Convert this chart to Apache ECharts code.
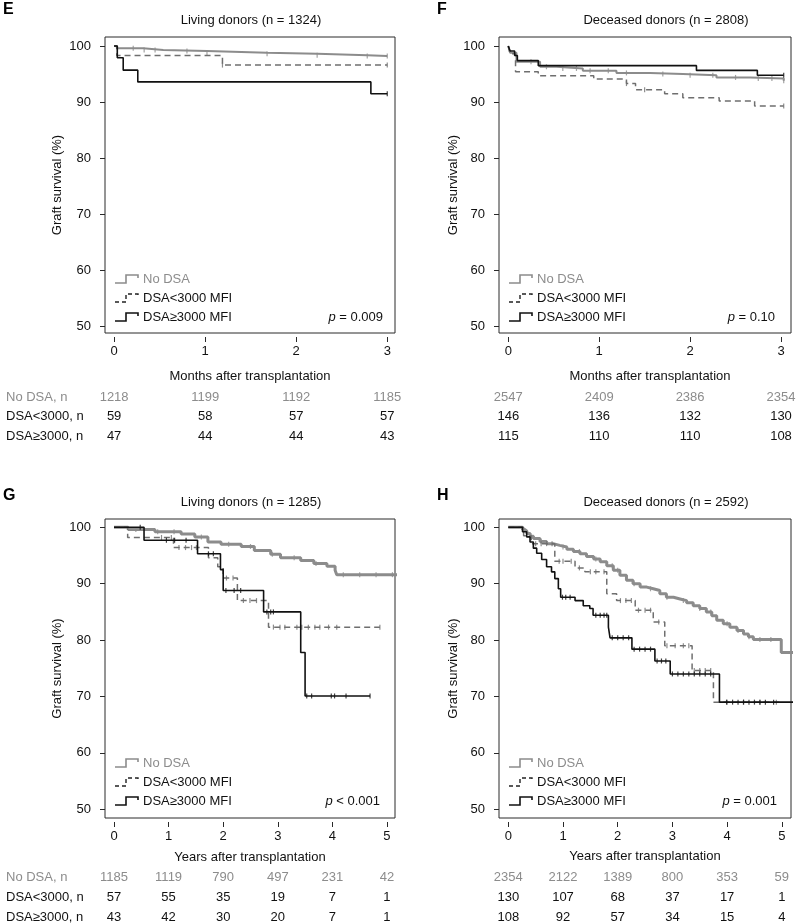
<!DOCTYPE html>
<html><head><meta charset="utf-8">
<script src="https://cdn.jsdelivr.net/npm/echarts@6/dist/echarts.min.js"></script>
<style>html,body{margin:0;padding:0;background:#fff}#c{width:798px;height:924px}</style>
</head><body><div id="c"></div>
<script>
const FONT = "'Liberation Sans', Arial, Helvetica, sans-serif";

// ---- tick labels ----
const monthTicks = [0, 1, 2, 3];
const yearTicks = [0, 1, 2, 3, 4, 5];
const survTicks = [50, 60, 70, 80, 90, 100];
const groupNames = ['No DSA', 'DSA<3000 MFI', 'DSA\u22653000 MFI'];
const riskRowLabels = ['No DSA, n', 'DSA<3000, n', 'DSA\u22653000, n'];

// ---- Panel E: living donors, months ----
const eNoDsaCurve = [[0,100],[0.03,99.6],[0.32,99.3],[0.54,99.1],[1.02,98.8],[1.68,98.6],[2.23,98.35],[2.78,98.2],[3.0,98.2]];
const eLowCurve = [[0,100],[0.03,98.3],[1.19,96.6],[3.0,96.6]];
const eHighCurve = [[0,100],[0.035,97.9],[0.1,95.7],[0.26,93.6],[2.82,91.5],[3.0,91.5]];
const eNoDsaCensor = [0.21,0.33,0.45,0.8,1.02,1.68,2.23,2.78,3.0];
const eLowCensor = [1.19,3.0];
const eHighCensor = [3.0];
const eRiskNoDsa = [1218, 1199, 1192, 1185];
const eRiskLow = [59, 58, 57, 57];
const eRiskHigh = [47, 44, 44, 43];

// ---- Panel F: deceased donors, months ----
const fNoDsaCurve = [[0,100],[0.02,98.8],[0.09,97.2],[0.35,96.3],[0.53,96.0],[0.82,95.6],[1.19,95.2],[1.56,95.0],[1.92,94.8],[2.29,94.4],[2.66,94.2],[3.03,93.8]];
const fLowCurve = [[0,100],[0.02,98.6],[0.08,95.4],[0.33,94.7],[0.94,94.1],[1.30,93.3],[1.40,92.2],[1.72,91.5],[1.92,90.8],[2.32,90.2],[2.71,89.3],[3.03,89.3]];
const fHighCurve = [[0,100],[0.02,99.1],[0.07,98.3],[0.10,97.4],[0.33,96.5],[2.07,95.65],[2.74,94.8],[3.03,94.8]];
const fNoDsaCensor = [0.25,0.42,0.6,0.75,0.9,1.1,1.3,1.7,2.0,2.25,2.5,2.75,2.9,3.03];
const fLowCensor = [1.3,1.5,3.03];
const fHighCensor = [3.03];
const fRiskNoDsa = [2547, 2409, 2386, 2354];
const fRiskLow = [146, 136, 132, 130];
const fRiskHigh = [115, 110, 110, 108];

// ---- Panel G: living donors, years ----
const gNoDsaCurve = [[0,100],[0.26,99.6],[0.75,99.2],[1.23,98.8],[1.48,98.3],[1.72,97.4],[1.96,97.0],[2.33,96.6],[2.57,95.9],[2.87,95.2],[3.05,94.6],[3.42,94.1],[3.66,93.6],[3.9,93.1],[4.05,92.4],[4.08,91.6],[5.3,91.6]];
const gLowCurve = [[0,100],[0.25,98.2],[1.09,96.4],[1.73,94.6],[1.9,93.0],[2.0,91.0],[2.26,87.0],[2.83,82.3],[4.87,82.3]];
const gHighCurve = [[0,100],[0.55,97.7],[1.53,95.3],[1.95,92.5],[2.0,88.8],[2.74,85.0],[3.42,77.8],[3.50,70.1],[4.69,70.1]];
const gNoDsaCensor = [0.4,0.8,1.1,1.6,2.1,2.5,2.9,3.3,3.7,4.2,4.5,4.8,5.1];
const gLowCensor = [0.87,1.05,1.19,1.31,1.42,1.51,2.06,2.18,2.37,2.49,2.61,2.92,3.04,3.13,3.35,3.44,3.56,3.68,3.77,3.93,4.08,4.87];
const gHighCensor = [0.48,0.96,1.11,1.32,1.73,1.82,2.05,2.2,2.32,2.8,2.87,2.92,3.53,3.62,3.98,4.04,4.25,4.69];
const gRiskNoDsa = [1185, 1119, 790, 497, 231, 42];
const gRiskLow = [57, 55, 35, 19, 7, 1];
const gRiskHigh = [43, 42, 30, 20, 7, 1];

// ---- Panel H: deceased donors, years ----
const hNoDsaCurve = [[0,100],[0.26,99.6],[0.30,99.3],[0.34,98.9],[0.40,98.4],[0.46,98.0],[0.58,97.5],[0.70,97.1],[0.82,96.8],[0.94,96.5],[1.07,96.1],[1.19,95.7],[1.31,95.3],[1.43,94.8],[1.56,94.4],[1.68,93.9],[1.80,93.2],[1.92,92.4],[2.04,91.5],[2.16,90.6],[2.28,90.0],[2.41,89.4],[2.53,89.1],[2.65,88.8],[2.77,88.2],[2.89,87.6],[3.02,87.3],[3.14,87.0],[3.26,86.6],[3.38,86.1],[3.50,85.6],[3.62,85.0],[3.72,84.3],[3.81,83.5],[3.93,82.9],[4.05,82.3],[4.18,81.7],[4.30,81.1],[4.39,80.6],[4.48,80.1],[4.99,77.8],[5.3,77.8]];
const hLowCurve = [[0,100],[0.28,98.5],[0.42,97.1],[0.85,94.0],[1.22,92.8],[1.40,92.1],[1.80,88.2],[1.98,87.0],[2.32,85.3],[2.65,83.2],[2.86,79.0],[3.36,74.6],[3.75,69.0],[4.97,69.0]];
const hHighCurve = [[0,100],[0.26,99.2],[0.336,98.3],[0.397,97.4],[0.458,96.3],[0.519,95.4],[0.61,94.3],[0.70,93.0],[0.79,92.1],[0.85,90.9],[0.915,89.1],[0.957,87.6],[1.22,87.0],[1.37,86.1],[1.49,85.6],[1.55,84.4],[1.83,82.3],[1.86,80.4],[2.26,78.4],[2.68,76.3],[2.96,74.0],[3.86,69.0],[5.3,69.0]];
const hNoDsaCensor = [0.6,1.0,1.3,1.6,1.9,2.0,2.3,2.6,2.9,3.2,3.5,3.7,4.0,4.2,4.4,4.6,4.8];
const hLowCensor = [0.5,0.6,0.7,0.8,0.93,1.0,1.15,1.3,1.5,1.6,1.75,2.05,2.15,2.25,2.38,2.5,2.6,2.75,2.9,3.05,3.2,3.3,3.4,3.5,3.6,3.7,4.0,4.3,4.6,4.9];
const hHighCensor = [0.99,1.05,1.13,1.6,1.68,1.75,1.8,1.9,2.0,2.1,2.2,2.3,2.4,2.5,2.6,2.72,2.8,2.88,3.0,3.1,3.2,3.3,3.4,3.5,3.6,3.7,3.99,4.1,4.2,4.3,4.4,4.5,4.6,4.7,4.85];
const hRiskNoDsa = [2354, 2122, 1389, 800, 353, 59];
const hRiskLow = [130, 107, 68, 37, 17, 1];
const hRiskHigh = [108, 92, 57, 34, 15, 4];

// ---- styles ----
const COL_NO = '#8c8c8c', COL_LOW = '#6f6f6f', COL_HIGH = '#111111';

const panels = [
  { letter:'E', title:'Living donors (n = 1324)', xname:'Months after transplantation', p:'{i|p} = 0.009',
    grid:{left:105, top:37, width:290, height:296}, xr:[-0.1,3.085], yr:[48.88,101.6], ticks:monthTicks,
    curves:[eNoDsaCurve,eLowCurve,eHighCurve], censors:[eNoDsaCensor,eLowCensor,eHighCensor],
    risk:[eRiskNoDsa,eRiskLow,eRiskHigh], rowLabels:true, grayW:2,
    titleX:251, titleY:20, letterX:3, letterY:10, ynameX:57, xnameX:250, xnameY:376, riskY:[397,416.5,436.5],
    legY:[279,298,317], pX:383, pY:317 },
  { letter:'F', title:'Deceased donors (n = 2808)', xname:'Months after transplantation', p:'{i|p} = 0.10',
    grid:{left:499, top:37, width:292, height:296}, xr:[-0.102,3.11], yr:[48.88,101.6], ticks:monthTicks,
    curves:[fNoDsaCurve,fLowCurve,fHighCurve], censors:[fNoDsaCensor,fLowCensor,fHighCensor],
    risk:[fRiskNoDsa,fRiskLow,fRiskHigh], rowLabels:false, grayW:2,
    titleX:666, titleY:20, letterX:437, letterY:10, ynameX:453, xnameX:650, xnameY:376, riskY:[397,416.5,436.5],
    legY:[279,298,317], pX:775, pY:317 },
  { letter:'G', title:'Living donors (n = 1285)', xname:'Years after transplantation', p:'{i|p} < 0.001',
    grid:{left:105, top:519, width:290, height:299}, xr:[-0.165,5.147], yr:[48.46,101.47], ticks:yearTicks,
    curves:[gNoDsaCurve,gLowCurve,gHighCurve], censors:[gNoDsaCensor,gLowCensor,gHighCensor],
    risk:[gRiskNoDsa,gRiskLow,gRiskHigh], rowLabels:true, grayW:3,
    titleX:251, titleY:502, letterX:3, letterY:496, ynameX:57, xnameX:250, xnameY:857, riskY:[877,897,917],
    legY:[763,782,801], pX:380, pY:801 },
  { letter:'H', title:'Deceased donors (n = 2592)', xname:'Years after transplantation', p:'{i|p} = 0.001',
    grid:{left:499, top:519, width:292, height:299}, xr:[-0.17,5.168], yr:[48.46,101.47], ticks:yearTicks,
    curves:[hNoDsaCurve,hLowCurve,hHighCurve], censors:[hNoDsaCensor,hLowCensor,hHighCensor],
    risk:[hRiskNoDsa,hRiskLow,hRiskHigh], rowLabels:false, grayW:3,
    titleX:666, titleY:502, letterX:437, letterY:496, ynameX:453, xnameX:645, xnameY:856, riskY:[877,897,917],
    legY:[763,782,801], pX:777, pY:801 }
];

function stepValue(curve, t) {
  let v = curve[0][1];
  for (const pt of curve) { if (pt[0] <= t + 1e-9) v = pt[1]; else break; }
  return v;
}

const grids = [], xAxes = [], yAxes = [], series = [];
panels.forEach((P, i) => {
  grids.push(Object.assign({show:true, borderColor:'#2a2a2a', borderWidth:1, backgroundColor:'transparent'}, P.grid));
  xAxes.push({
    gridIndex:i, type:'value', min:P.xr[0], max:P.xr[1], offset:4,
    axisLine:{show:false, onZero:false},
    axisTick:{show:true, length:5, customValues:P.ticks, lineStyle:{color:'#2a2a2a', width:1}},
    axisLabel:{customValues:P.ticks, margin:8, fontSize:13, color:'#111', fontFamily:FONT},
    splitLine:{show:false}
  });
  yAxes.push({
    gridIndex:i, type:'value', min:P.yr[0], max:P.yr[1],
    axisLine:{show:false, onZero:false},
    axisTick:{show:true, length:5, customValues:survTicks, lineStyle:{color:'#2a2a2a', width:1}},
    axisLabel:{customValues:survTicks, margin:14, fontSize:13, color:'#111', fontFamily:FONT},
    splitLine:{show:false}
  });
  const styles = [
    {color:COL_NO, width:P.grayW, type:'solid'},
    {color:COL_LOW, width:1.5, type:[6,4]},
    {color:COL_HIGH, width:1.6, type:'solid'}
  ];
  P.curves.forEach((cv, k) => {
    series.push({
      type:'line', name:groupNames[k], xAxisIndex:i, yAxisIndex:i, data:cv, step:'end',
      showSymbol:false, symbol:'none', clip:true, silent:true, z:2+k,
      lineStyle:styles[k]
    });
    series.push({
      type:'scatter', xAxisIndex:i, yAxisIndex:i, silent:true, z:2+k,
      data:P.censors[k].map(t => [t, stepValue(cv, t)]),
      symbol:'rect', symbolSize:[1.2, 5], itemStyle:{color:styles[k].color}
    });
  });
});

const chart = echarts.init(document.getElementById('c'), null, {renderer:'canvas'});
chart.setOption({
  animation:false, backgroundColor:'#fff',
  grid:grids, xAxis:xAxes, yAxis:yAxes, series:series
});

// ---- text and legend graphics ----
const g = [];
const txt = (x, y, text, opts) => g.push(Object.assign({type:'text', x:x, y:y, silent:true,
  style:Object.assign({text:text, fontSize:13, fontFamily:FONT, fill:'#111', align:'center', verticalAlign:'middle'}, opts || {})}));

panels.forEach((P, i) => {
  txt(P.letterX, P.letterY, P.letter, {fontSize:16, fontWeight:'bold', align:'left', fill:'#000'});
  txt(P.titleX, P.titleY, P.title);
  txt(P.xnameX, P.xnameY, P.xname);
  g.push({type:'text', x:P.ynameX, y:P.grid.top + P.grid.height / 2, rotation:Math.PI / 2, silent:true,
    style:{text:'Graft survival (%)', fontSize:13, fontFamily:FONT, fill:'#111', align:'center', verticalAlign:'middle'}});
  // p value
  txt(P.pX, P.pY, P.p, {align:'right', rich:{i:{fontStyle:'italic', fontSize:13, fontFamily:FONT, fill:'#111'}}});
  // legend
  const lx = P.grid.left + 10;
  const legStyles = [
    {stroke:COL_NO, lineWidth:1.6, lineDash:null},
    {stroke:'#222', lineWidth:1.4, lineDash:[4,3]},
    {stroke:COL_HIGH, lineWidth:1.6, lineDash:null}
  ];
  groupNames.forEach((nm, k) => {
    const yc = P.legY[k];
    g.push({type:'polyline', silent:true,
      shape:{points:[[lx, yc + 4], [lx + 11, yc + 4], [lx + 11, yc - 4], [lx + 23, yc - 4], [lx + 23, yc - 1]]},
      style:Object.assign({fill:null}, legStyles[k])});
    txt(lx + 28, yc, nm, {align:'left', fill: k === 0 ? '#8c8c8c' : '#111'});
  });
  // risk table
  P.risk.forEach((row, k) => {
    const yc = P.riskY[k];
    if (P.rowLabels) txt(6, yc, riskRowLabels[k], {align:'left', fill: k === 0 ? '#8c8c8c' : '#111'});
    row.forEach((n, j) => {
      const px = chart.convertToPixel({xAxisIndex:i}, P.ticks[j]);
      txt(px, yc, String(n), {fill: k === 0 ? '#8c8c8c' : '#111'});
    });
  });
});
chart.setOption({graphic:{elements:g}});
</script></body></html>
